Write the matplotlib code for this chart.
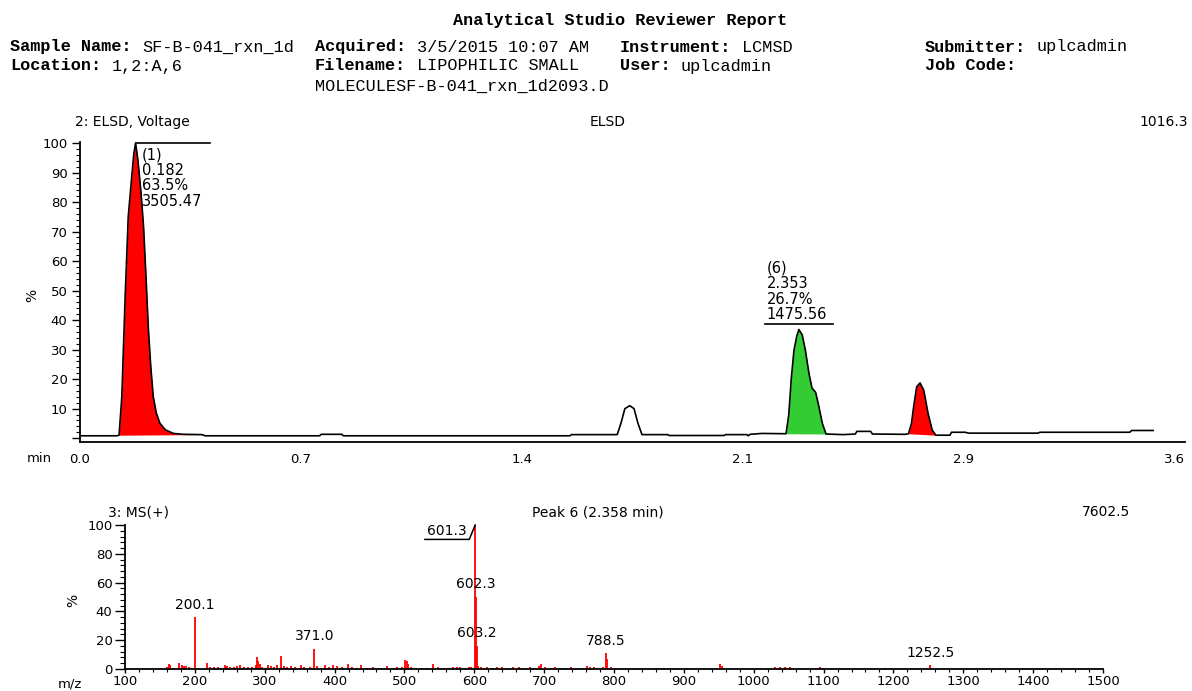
import numpy as np
import matplotlib
matplotlib.use("Agg")
import matplotlib.pyplot as plt
from matplotlib.ticker import MultipleLocator, FuncFormatter

# ---------------- data ----------------
report_title = "Analytical Studio Reviewer Report"
header_row1 = [("Sample Name:", "SF-B-041_rxn_1d"), ("Acquired:", "3/5/2015 10:07 AM"),
               ("Instrument:", "LCMSD"), ("Submitter:", "uplcadmin")]
header_row2 = [("Location:", "1,2:A,6"), ("Filename:", "LIPOPHILIC SMALL"),
               ("User:", "uplcadmin"), ("Job Code:", "")]
header_row3 = "MOLECULESF-B-041_rxn_1d2093.D"

elsd_title_left = "2: ELSD, Voltage"
elsd_title_mid = "ELSD"
elsd_title_right = "1016.3"

elsd_time = [0.000, 0.120, 0.128, 0.137, 0.148, 0.158, 0.169, 0.176, 0.182, 0.190,
             0.200, 0.208, 0.216, 0.224, 0.232, 0.240, 0.250, 0.262, 0.280, 0.306,
             0.340, 0.400, 0.410, 0.785, 0.790, 0.858, 0.863, 1.605, 1.610, 1.760,
             1.772, 1.785, 1.801, 1.815, 1.828, 1.841, 1.925, 1.930, 2.110, 2.115,
             2.185, 2.189, 2.195, 2.235, 2.313, 2.322, 2.330, 2.339, 2.348, 2.355,
             2.366, 2.376, 2.388, 2.398, 2.410, 2.420, 2.432, 2.444, 2.500, 2.540,
             2.545, 2.590, 2.596, 2.704, 2.714, 2.724, 2.731, 2.741, 2.752, 2.764,
             2.771, 2.778, 2.792, 2.804, 2.850, 2.855, 2.900, 2.911, 3.138, 3.145,
             3.439, 3.445, 3.516]
elsd_signal = [0.8, 0.8, 1.0, 14.0, 48.0, 75.0, 88.0, 96.0, 100.0, 94.0,
               83.0, 72.0, 55.0, 37.0, 24.0, 14.0, 8.5, 5.0, 2.8, 1.6,
               1.3, 1.2, 0.8, 0.8, 1.3, 1.3, 0.8, 0.8, 1.2, 1.2,
               5.0, 10.0, 11.0, 10.0, 5.0, 1.2, 1.2, 0.9, 0.9, 1.2,
               1.2, 0.8, 1.3, 1.6, 1.5, 8.0, 20.0, 29.8, 34.5, 36.8,
               35.0, 30.0, 22.0, 17.0, 15.5, 11.0, 5.0, 1.4, 1.2, 1.4,
               2.3, 2.3, 1.4, 1.3, 1.5, 5.0, 10.6, 17.4, 18.7, 16.3,
               12.5, 8.5, 2.7, 1.0, 1.0, 2.0, 2.0, 1.7, 1.7, 2.0,
               2.0, 2.6, 2.6]

peak_start = [0.128, 2.313, 2.714]
peak_end = [0.400, 2.444, 2.804]
peak_color = ["#FF0000", "#33CC33", "#FF0000"]

label_peaks = [0, 1]                     # index into peak_start for labelled peaks
label_id = ["(1)", "(6)"]
label_rt = ["0.182", "2.353"]
label_pct = ["63.5%", "26.7%"]
label_area = ["3505.47", "1475.56"]

elsd_xtick_labels = ["0.0", "0.7", "1.4", "2.1", "2.9", "3.6"]
elsd_xmax = 3.62

ms_title_left = "3: MS(+)"
ms_title_mid = "Peak 6 (2.358 min)"
ms_title_right = "7602.5"

ms_mz = [160, 163, 165, 168, 178, 181, 184, 188, 192, 200.1, 204, 218, 222, 228, 233,
         238, 243, 246, 250, 256, 260, 264, 270, 276, 282, 287, 289, 291, 293, 296,
         305, 309, 313, 318, 323.3, 327, 332, 337, 343, 352, 356, 365, 371.0, 375, 380,
         386, 392, 398, 404, 410, 418.7, 425, 431, 437.8, 447, 455, 462, 474.5, 485, 490,
         497, 500.8, 503, 505.6, 510, 517, 525, 533, 541, 548, 556, 562, 570, 575, 580,
         587, 592, 596, 601.3, 602.3, 603.2, 606, 610, 618, 625, 633, 640, 648, 655, 664,
         672, 680, 686, 692, 696, 701, 708, 716, 724, 731, 738, 745, 752, 761, 766,
         772, 778, 784, 788.5, 790, 795, 802, 810, 818, 828, 840, 861, 872, 880, 890,
         905, 951.7, 954, 1030, 1038, 1045, 1052, 1095, 1100, 1124, 1188, 1252.5, 1385]
ms_int = [1.5, 3.5, 3.0, 1.0, 4.0, 2.5, 2.0, 2.0, 1.2, 36.0, 1.0, 4.5, 1.5, 1.2, 1.5,
          1.0, 3.0, 2.0, 1.5, 1.2, 2.0, 3.0, 1.5, 1.2, 1.5, 3.0, 8.0, 5.5, 3.5, 1.5,
          3.0, 2.0, 1.5, 2.5, 9.0, 2.0, 1.5, 2.0, 1.2, 2.5, 1.5, 1.2, 14.0, 2.0, 1.0,
          3.0, 1.5, 2.5, 2.0, 1.5, 3.5, 1.2, 1.0, 3.0, 1.0, 1.2, 0.8, 2.0, 1.0, 1.2,
          1.5, 6.5, 5.5, 3.5, 1.5, 1.0, 0.8, 1.0, 3.5, 1.2, 1.0, 0.8, 1.5, 1.2, 1.5,
          1.0, 1.2, 1.5, 100.0, 50.0, 16.0, 2.0, 1.5, 1.2, 1.0, 1.5, 1.2, 1.0, 1.2, 1.5,
          1.0, 1.2, 1.0, 2.0, 3.5, 1.5, 1.0, 1.2, 0.8, 1.0, 1.2, 0.8, 1.0, 2.0, 1.2,
          1.5, 1.0, 1.2, 11.0, 7.0, 1.5, 1.0, 1.0, 0.8, 0.7, 0.6, 1.0, 0.6, 0.8, 0.8,
          0.5, 3.5, 2.0, 1.4, 1.2, 1.4, 1.2, 1.2, 0.8, 0.6, 0.7, 2.5, 1.0]
ms_label_mz = [200.1, 371.0, 602.3, 603.2, 788.5, 1252.5]
ms_base_peak = 601.3

# ---------------- layout helpers ----------------
W, H = 1192, 691
DPI = 100
fig = plt.figure(figsize=(W / DPI, H / DPI), dpi=DPI)
fig.patch.set_facecolor("white")


def fx(x):
    return x / W


def fy(y):
    return 1 - y / H


SANS = "DejaVu Sans"
MONO = "Liberation Mono"
MONO_SIZE = 12.2
ADV = MONO_SIZE * DPI / 72 * 0.6   # px per monospace character

# ---------------- header ----------------
fig.text(fx(620), fy(21), report_title, family=MONO, weight="bold", size=MONO_SIZE,
         ha="center", va="center")
col_x = [10, 315, 620, 925]
for row, ypx in ((header_row1, 47), (header_row2, 66)):
    for (lab, val), xpx in zip(row, col_x):
        fig.text(fx(xpx), fy(ypx), lab, family=MONO, weight="bold", size=MONO_SIZE,
                 ha="left", va="center")
        if val:
            fig.text(fx(xpx + (len(lab) + 1) * ADV), fy(ypx), val, family=MONO,
                     size=MONO_SIZE, ha="left", va="center")
fig.text(fx(col_x[1]), fy(86), header_row3, family=MONO, size=MONO_SIZE,
         ha="left", va="center")

# ---------------- ELSD chromatogram ----------------
t = np.array(elsd_time)
s = np.array(elsd_signal)
ax1 = fig.add_axes([fx(80), fy(441.7), fx(1185) - fx(80), (441.7 - 142.1) / H])
ax1.set_xlim(0, elsd_xmax)
ax1.set_ylim(-1.2, 100.3)
for st, en, col in zip(peak_start, peak_end, peak_color):
    m = (t >= st) & (t <= en)
    base = np.interp(t, [st, en], [np.interp(st, t, s), np.interp(en, t, s)])
    ax1.fill_between(t, s, base, where=m, color=col, linewidth=0)
ax1.plot(t, s, color="black", lw=1.2)

for sp in ("top", "right"):
    ax1.spines[sp].set_visible(False)
for sp in ("left", "bottom"):
    ax1.spines[sp].set_linewidth(1.3)
ax1.yaxis.set_major_locator(MultipleLocator(10))
ax1.yaxis.set_minor_locator(MultipleLocator(2))
ax1.yaxis.set_major_formatter(FuncFormatter(lambda v, p: "" if v < 5 else f"{v:.0f}"))
ax1.tick_params(axis="y", which="major", length=6, width=1, pad=3, labelsize=9.5)
ax1.tick_params(axis="y", which="minor", length=3, width=0.8)
ax1.set_xticks(np.linspace(0, elsd_xmax, len(elsd_xtick_labels)))
ax1.set_xticklabels(elsd_xtick_labels)
ax1.tick_params(axis="x", length=0, pad=8, labelsize=9.5)
ax1.get_xticklabels()[-1].set_horizontalalignment("right")

# peak labels
for k, idx in enumerate(label_peaks):
    m = (t >= peak_start[idx]) & (t <= peak_end[idx])
    i_apex = np.argmax(np.where(m, s, -1))
    ta, sa = t[i_apex], s[i_apex]
    txt = "\n".join([label_id[k], label_rt[k], label_pct[k], label_area[k]])
    if k == 0:
        ax1.plot([ta, ta + 0.245], [sa, sa], color="black", lw=1.2)
        ax1.text(ta + 0.02, sa - 1.4, txt, family=SANS, size=10.5, ha="left", va="top",
                 linespacing=1.05)
    else:
        ax1.plot([ta - 0.11, ta + 0.112], [sa + 1.8, sa + 1.8], color="black", lw=1.2)
        ax1.text(ta - 0.106, sa + 2.4, txt, family=SANS, size=10.5, ha="left", va="bottom",
                 linespacing=1.05)

fig.text(fx(75), fy(122), elsd_title_left, family=SANS, size=10, ha="left", va="center")
fig.text(fx(608), fy(122), elsd_title_mid, family=SANS, size=10, ha="center", va="center")
fig.text(fx(1188), fy(122), elsd_title_right, family=SANS, size=10, ha="right", va="center")
fig.text(fx(32), fy(295), "%", family=SANS, size=10, ha="center", va="center", rotation=90)
fig.text(fx(27), fy(459), "min", family=SANS, size=9.5, ha="left", va="center")

# ---------------- MS spectrum ----------------
ax2 = fig.add_axes([fx(125), fy(669), fx(1103) - fx(125), (669 - 525) / H])
ax2.set_xlim(100, 1500)
ax2.set_ylim(0, 100)
ax2.vlines(ms_mz, 0, ms_int, color="#FF0000", lw=1.3)
for sp in ("top", "right"):
    ax2.spines[sp].set_visible(False)
for sp in ("left", "bottom"):
    ax2.spines[sp].set_linewidth(1.3)
ax2.xaxis.set_major_locator(MultipleLocator(100))
ax2.xaxis.set_minor_locator(MultipleLocator(20))
ax2.yaxis.set_major_locator(MultipleLocator(20))
ax2.yaxis.set_minor_locator(MultipleLocator(4))
ax2.tick_params(axis="y", which="major", length=7, width=1, labelsize=9.5, pad=2)
ax2.tick_params(axis="y", which="minor", length=3.5, width=0.8)
ax2.tick_params(axis="x", which="major", length=3, width=1, labelsize=9.5, pad=1.5)
ax2.tick_params(axis="x", which="minor", length=2.5, width=0.8)

mz_arr = np.array(ms_mz)
int_arr = np.array(ms_int)
for mz in ms_label_mz:
    h = int_arr[np.argmin(abs(mz_arr - mz))]
    ax2.annotate(f"{mz:.1f}", xy=(mz, h), xytext=(0, 4), textcoords="offset points",
                 ha="center", va="bottom", family=SANS, size=10)
hb = int_arr[np.argmin(abs(mz_arr - ms_base_peak))]
ax2.plot([ms_base_peak - 72, ms_base_peak - 8.5, ms_base_peak],
         [hb - 10, hb - 10, hb], color="black", lw=1.1, clip_on=False)
ax2.text(ms_base_peak - 41, hb - 9, f"{ms_base_peak:.1f}", family=SANS, size=10,
         ha="center", va="bottom")

fig.text(fx(108), fy(512), ms_title_left, family=SANS, size=10, ha="left", va="center")
fig.text(fx(598), fy(512), ms_title_mid, family=SANS, size=10, ha="center", va="center")
fig.text(fx(1130), fy(512), ms_title_right, family=SANS, size=10, ha="right", va="center")
fig.text(fx(73), fy(600), "%", family=SANS, size=10, ha="center", va="center", rotation=90)
fig.text(fx(58), fy(684), "m/z", family=SANS, size=9.5, ha="left", va="center")

fig.savefig("out.png", dpi=DPI, facecolor="white")
